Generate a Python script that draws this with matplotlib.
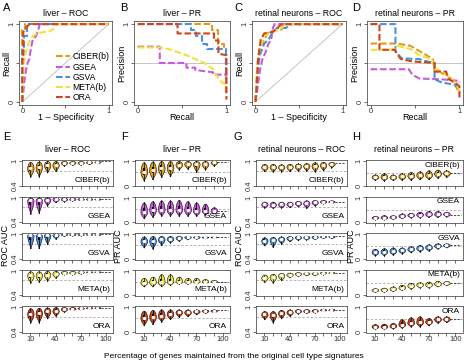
import numpy as np
import matplotlib
matplotlib.use('Agg')
import matplotlib.pyplot as plt

plt.rcParams['font.family'] = ['Liberation Sans', 'DejaVu Sans']

W, H = 468, 364

methods = ['CIBER(b)', 'GSEA', 'GSVA', 'META(b)', 'ORA']
colors = ['#E09B1B', '#C95BDB', '#4B91DF', '#EFE23A', '#D1451B']
pct = [10, 20, 30, 40, 50, 60, 70, 80, 90]

# top row curves: (x, y) vertices per method
liver_roc = [
    ([0, 0, 0.03, 0.03, 1], [0, 0.93, 0.93, 1, 1]),
    ([0, 0.02, 0.04, 0.06, 0.08, 0.10, 0.12, 0.16, 0.19, 0.2, 1],
     [0, 0.25, 0.4, 0.5, 0.55, 0.7, 0.8, 0.85, 0.95, 1, 1]),
    ([0, 0, 0.02, 0.02, 0.05, 0.05, 1], [0, 0.65, 0.65, 0.85, 0.85, 1, 1]),
    ([0, 0.01, 0.03, 0.06, 0.1, 0.15, 0.25, 0.3, 0.35, 0.4, 1],
     [0, 0.45, 0.6, 0.72, 0.82, 0.87, 0.9, 0.9, 0.93, 1, 1]),
    ([0, 0, 0.01, 0.01, 0.03, 0.04, 0.08, 1], [0, 0.55, 0.55, 0.9, 0.93, 0.95, 1, 1]),
]
liver_pr = [
    ([0, 0.84, 0.84, 0.9, 0.9, 0.97, 0.97, 1.0, 1.0], [1, 1, 0.93, 0.93, 0.75, 0.75, 0.68, 0.68, 0.12]),
    ([0, 0.25, 0.25, 0.55, 0.55, 0.65, 0.65, 0.85, 0.85, 1, 1],
     [0.71, 0.71, 0.5, 0.5, 0.44, 0.44, 0.41, 0.38, 0.35, 0.35, 0.33]),
    ([0, 0.6, 0.6, 0.66, 0.66, 0.72, 0.72, 0.78, 0.78, 1.0, 1.0],
     [1, 1, 0.93, 0.93, 0.85, 0.85, 0.75, 0.75, 0.68, 0.68, 0.3]),
    ([0, 0.25, 0.35, 0.45, 0.55, 0.65, 0.75, 0.85, 0.9, 0.95, 1],
     [0.7, 0.7, 0.68, 0.64, 0.6, 0.55, 0.5, 0.42, 0.32, 0.25, 0.22]),
    ([0, 0.45, 0.45, 0.86, 0.86, 0.91, 0.91, 1, 1], [1, 1, 0.88, 0.88, 0.79, 0.79, 0.62, 0.6, 0.03]),
]
retina_roc = [
    ([0, 0.02, 0.05, 0.1, 0.15, 0.3, 0.32, 1], [0, 0.45, 0.7, 0.8, 0.9, 0.93, 1, 1]),
    ([0, 0.02, 0.05, 0.08, 0.12, 0.15, 0.18, 0.2, 0.22, 1],
     [0, 0.15, 0.4, 0.55, 0.65, 0.75, 0.8, 0.95, 1, 1]),
    ([0, 0.02, 0.05, 0.1, 0.15, 0.2, 0.25, 0.35, 0.4, 1],
     [0, 0.35, 0.6, 0.75, 0.8, 0.9, 0.95, 0.95, 1, 1]),
    ([0, 0.02, 0.05, 0.1, 0.2, 0.3, 0.35, 1], [0, 0.5, 0.7, 0.85, 0.9, 0.95, 1, 1]),
    ([0, 0.01, 0.03, 0.06, 0.1, 0.2, 0.3, 1], [0, 0.15, 0.55, 0.8, 0.88, 0.9, 1, 1]),
]
retina_pr = [
    ([0, 0.3, 0.45, 0.6, 0.7, 0.72, 0.85, 0.9, 0.97, 1], [0.75, 0.75, 0.72, 0.62, 0.55, 0.4, 0.35, 0.3, 0.18, 0.1]),
    ([0, 0.43, 0.47, 0.55, 0.8, 0.9, 1, 1], [0.42, 0.42, 0.35, 0.3, 0.29, 0.28, 0.27, 0.25]),
    ([0, 0.28, 0.28, 0.35, 0.55, 0.6, 0.72, 0.72, 0.8, 0.95, 1],
     [1, 1, 0.65, 0.56, 0.55, 0.53, 0.5, 0.29, 0.25, 0.22, 0.15]),
    ([0, 0.25, 0.3, 0.45, 0.55, 0.68, 0.75, 0.85, 0.95, 1],
     [0.67, 0.67, 0.72, 0.68, 0.6, 0.55, 0.42, 0.35, 0.25, 0.15]),
    ([0, 0.1, 0.1, 0.27, 0.34, 0.47, 0.72, 0.72, 0.85, 0.88, 0.95, 1, 1],
     [1, 1, 0.67, 0.67, 0.55, 0.52, 0.5, 0.39, 0.39, 0.29, 0.25, 0.2, 0.05]),
]

# violin summaries (rows = methods, cols = 10..90 %), plus value at 100 %
e_med = [[0.82, 0.85, 0.9, 0.9, 0.96, 0.96, 0.96, 0.97, 0.98],
         [0.93, 0.93, 0.95, 0.96, 0.96, 0.96, 0.96, 0.96, 0.96],
         [0.97, 0.97, 0.98, 0.98, 0.99, 0.99, 0.99, 0.99, 0.99],
         [0.88, 0.88, 0.9, 0.92, 0.95, 0.95, 0.96, 0.97, 0.97],
         [0.83, 0.85, 0.9, 0.9, 0.95, 0.96, 0.97, 0.98, 0.98]]
e_lo = [[0.62, 0.62, 0.72, 0.75, 0.88, 0.9, 0.9, 0.92, 0.94],
        [0.6, 0.62, 0.8, 0.88, 0.9, 0.92, 0.93, 0.93, 0.94],
        [0.65, 0.65, 0.75, 0.88, 0.95, 0.96, 0.96, 0.97, 0.97],
        [0.7, 0.72, 0.75, 0.82, 0.9, 0.9, 0.92, 0.94, 0.95],
        [0.62, 0.62, 0.72, 0.78, 0.88, 0.92, 0.94, 0.95, 0.96]]
e_hi = [[0.98, 0.99, 1, 1, 1, 1, 1, 1, 1],
        [1, 1, 1, 1, 1, 1, 0.99, 0.99, 0.98],
        [1, 1, 1, 1, 1, 1, 1, 1, 1],
        [0.98, 0.98, 0.99, 0.99, 0.99, 0.99, 0.99, 0.98, 0.98],
        [0.97, 0.98, 0.99, 1, 1, 1, 1, 1, 1]]
e_full = [0.99, 0.96, 0.99, 0.97, 0.98]

f_med = [[0.55, 0.62, 0.7, 0.72, 0.85, 0.88, 0.88, 0.88, 0.95],
         [0.4, 0.48, 0.5, 0.5, 0.5, 0.48, 0.45, 0.45, 0.45],
         [0.7, 0.72, 0.78, 0.8, 0.85, 0.88, 0.88, 0.88, 0.88],
         [0.5, 0.52, 0.52, 0.55, 0.55, 0.55, 0.55, 0.55, 0.55],
         [0.55, 0.6, 0.65, 0.7, 0.78, 0.78, 0.82, 0.85, 0.85]]
f_lo = [[0.2, 0.25, 0.35, 0.38, 0.65, 0.68, 0.55, 0.65, 0.8],
        [0.15, 0.2, 0.25, 0.25, 0.25, 0.25, 0.25, 0.3, 0.35],
        [0.45, 0.4, 0.55, 0.65, 0.72, 0.78, 0.8, 0.82, 0.84],
        [0.35, 0.35, 0.35, 0.4, 0.45, 0.45, 0.47, 0.48, 0.5],
        [0.25, 0.3, 0.4, 0.5, 0.6, 0.62, 0.7, 0.75, 0.78]]
f_hi = [[0.95, 0.98, 1, 1, 1, 1, 1, 1, 1],
        [0.8, 0.85, 0.88, 0.88, 0.9, 0.85, 0.8, 0.75, 0.6],
        [0.9, 0.92, 0.92, 0.92, 0.92, 0.92, 0.92, 0.9, 0.9],
        [0.7, 0.75, 0.85, 0.85, 0.75, 0.7, 0.7, 0.65, 0.62],
        [0.85, 0.88, 0.9, 0.9, 0.9, 0.9, 0.9, 0.9, 0.9]]
f_full = [0.95, 0.45, 0.88, 0.55, 0.88]

g_med = [[0.85, 0.85, 0.85, 0.86, 0.87, 0.88, 0.88, 0.9, 0.93],
         [0.83, 0.82, 0.83, 0.84, 0.86, 0.86, 0.88, 0.9, 0.9],
         [0.83, 0.86, 0.88, 0.9, 0.92, 0.92, 0.93, 0.94, 0.94],
         [0.82, 0.84, 0.88, 0.9, 0.92, 0.93, 0.93, 0.95, 0.95],
         [0.82, 0.8, 0.85, 0.87, 0.9, 0.9, 0.91, 0.93, 0.93]]
g_lo = [[0.75, 0.74, 0.74, 0.75, 0.76, 0.76, 0.74, 0.77, 0.84],
        [0.75, 0.74, 0.75, 0.76, 0.78, 0.74, 0.8, 0.85, 0.86],
        [0.72, 0.68, 0.76, 0.82, 0.85, 0.86, 0.87, 0.9, 0.9],
        [0.72, 0.7, 0.76, 0.83, 0.86, 0.88, 0.88, 0.9, 0.92],
        [0.7, 0.62, 0.72, 0.78, 0.84, 0.85, 0.86, 0.9, 0.9]]
g_hi = [[0.93, 0.93, 0.92, 0.93, 0.94, 0.95, 0.97, 0.98, 0.98],
        [0.9, 0.9, 0.9, 0.9, 0.92, 0.93, 0.94, 0.94, 0.93],
        [0.92, 0.93, 0.94, 0.95, 0.96, 0.96, 0.96, 0.96, 0.96],
        [0.9, 0.92, 0.94, 0.95, 0.96, 0.96, 0.96, 0.97, 0.96],
        [0.9, 0.9, 0.93, 0.94, 0.95, 0.95, 0.95, 0.96, 0.96]]
g_full = [0.95, 0.9, 0.95, 0.95, 0.93]

h_med = [[0.35, 0.35, 0.33, 0.37, 0.4, 0.42, 0.42, 0.48, 0.5],
         [0.18, 0.18, 0.2, 0.25, 0.28, 0.3, 0.32, 0.32, 0.32],
         [0.25, 0.28, 0.3, 0.33, 0.38, 0.42, 0.45, 0.52, 0.55],
         [0.2, 0.22, 0.25, 0.3, 0.38, 0.42, 0.42, 0.45, 0.48],
         [0.2, 0.2, 0.22, 0.28, 0.35, 0.38, 0.4, 0.5, 0.5]]
h_lo = [[0.22, 0.2, 0.22, 0.22, 0.22, 0.25, 0.25, 0.3, 0.35],
        [0.1, 0.1, 0.12, 0.15, 0.18, 0.18, 0.2, 0.2, 0.22],
        [0.12, 0.12, 0.15, 0.2, 0.25, 0.28, 0.32, 0.4, 0.45],
        [0.12, 0.12, 0.15, 0.2, 0.25, 0.3, 0.3, 0.35, 0.4],
        [0.1, 0.1, 0.12, 0.15, 0.2, 0.2, 0.25, 0.35, 0.38]]
h_hi = [[0.45, 0.5, 0.45, 0.5, 0.55, 0.58, 0.62, 0.65, 0.62],
        [0.25, 0.28, 0.28, 0.35, 0.38, 0.42, 0.45, 0.45, 0.42],
        [0.4, 0.42, 0.45, 0.45, 0.5, 0.55, 0.58, 0.62, 0.62],
        [0.28, 0.3, 0.35, 0.42, 0.5, 0.52, 0.55, 0.58, 0.58],
        [0.3, 0.32, 0.35, 0.5, 0.58, 0.62, 0.55, 0.62, 0.62]]
h_full = [0.5, 0.3, 0.55, 0.5, 0.5]

ref_lines = {'E': 0.76, 'F': 0.55, 'G': 0.76, 'H': 0.5}

fig = plt.figure(figsize=(W / 100, H / 100), dpi=100)


def px_axes(l, t, r, b):
    return fig.add_axes([l / W, 1 - b / H, (r - l) / W, (b - t) / H])


def px_text(x, y, s, **kw):
    fig.text(x / W, 1 - y / H, s, **kw)


def style(ax):
    for sp in ax.spines.values():
        sp.set_linewidth(0.5)
        sp.set_color('#333333')
    ax.tick_params(direction='out', length=2, width=0.5, labelsize=5.5, pad=0.5, colors='#333333')


dash = (0, (3.2, 1.3))
top_x = [(19, 112), (134, 230), (252, 346), (367, 463)]
top_panels = [liver_roc, liver_pr, retina_roc, retina_pr]
top_titles = ['liver \u2013 ROC', 'liver \u2013 PR', 'retinal neurons \u2013 ROC', 'retinal neurons \u2013 PR']
letters_top = ['A', 'B', 'C', 'D']
letter_x = [7, 124, 238, 356]

for i, (curves, (l, r)) in enumerate(zip(top_panels, top_x)):
    ax = px_axes(l, 21, r, 105)
    style(ax)
    is_roc = i % 2 == 0
    if is_roc:
        ax.plot([0, 1], [0, 1], color='#BBBBBB', lw=0.6)
    else:
        ax.axhline(0.5, color='#BBBBBB', lw=0.6)
    for (xs, ys), m, c in zip(curves, methods, colors):
        ax.plot(xs, ys, color=c, lw=1.5, linestyle=dash, label=m)
    ax.set_xlim(-0.04, 1.04)
    ax.set_ylim(-0.04, 1.04)
    ax.set_xticks([0, 0.5, 1])
    ax.set_xticklabels(['0', '', '1'])
    ax.set_yticks([0, 0.5, 1])
    ax.set_yticklabels(['0', '', '1'], rotation=90, va='center')
    cx = (l + r) / 2
    px_text(cx, 14, top_titles[i], ha='center', va='center', fontsize=6.3)
    px_text(cx, 117, '1 \u2013 Specificity' if is_roc else 'Recall', ha='center', va='center', fontsize=6.5)
    px_text(l - 12, 63, 'Recall' if is_roc else 'Precision', ha='center', va='center',
            rotation=90, fontsize=6.5)
    px_text(letter_x[i], 8, letters_top[i], ha='center', va='center', fontsize=8)
    if i == 0:
        ax.legend(loc='lower right', frameon=False, fontsize=6.2, handlelength=1.6,
                  labelspacing=0.15, handletextpad=0.3, borderaxespad=0.1, borderpad=0.2)


def violin(ax, x, lo, med, hi, color, w=3.8):
    ys = np.linspace(lo, hi, 80)
    s1 = np.clip((ys - lo) / max(med - lo, 1e-6), 0, 1)
    s2 = np.clip((hi - ys) / max(hi - med, 1e-6), 0, 1)
    hw = np.where(ys <= med, w * np.sin(np.pi / 2 * s1) ** 1.3, w * np.sin(np.pi / 2 * s2) ** 0.5)
    hw = np.maximum(hw, 0.4)
    ax.fill_betweenx(ys, x - hw, x + hw, facecolor=color, edgecolor='black', lw=0.4, zorder=2)
    q1 = med - 0.35 * (med - lo)
    q3 = med + 0.4 * (hi - med)
    ax.plot([x, x], [lo, hi], color='black', lw=0.5, zorder=3)
    ax.plot([x, x], [q1, q3], color='black', lw=1.5, solid_capstyle='butt', zorder=3)
    ax.plot(x, med, 'o', ms=1.5, mfc='white', mec='white', zorder=4)


bottom_x = [(22, 113), (135, 230), (256, 347), (366, 463)]
ylabel_off = [16.5, 16.5, 16.5, 14]
row_tops = [160, 196.5, 233, 269.5, 306]
row_h = 26.5
bottom_sets = [(e_med, e_lo, e_hi, e_full), (f_med, f_lo, f_hi, f_full),
               (g_med, g_lo, g_hi, g_full), (h_med, h_lo, h_hi, h_full)]
bottom_titles = ['liver \u2013 ROC', 'liver \u2013 PR', 'retinal neurons \u2013 ROC', 'retinal neurons \u2013 PR']
letters_bot = ['E', 'F', 'G', 'H']

for j, ((l, r), (med, lo, hi, full)) in enumerate(zip(bottom_x, bottom_sets)):
    is_roc = j % 2 == 0
    for k in range(5):
        t = row_tops[k]
        ax = px_axes(l, t, r, t + row_h)
        style(ax)
        ax.axhline(ref_lines[letters_bot[j]], color='#AAAAAA', lw=0.6, linestyle=(0, (3, 2)), zorder=1)
        for p, mm, ll, hh in zip(pct, med[k], lo[k], hi[k]):
            violin(ax, p, ll, mm, hh, colors[k])
        ax.plot([94, 106], [full[k], full[k]], color='#444444', lw=0.7, linestyle=(0, (2.2, 1.4)), zorder=3)
        ax.set_xlim(0, 108.5)
        if is_roc:
            ax.set_ylim(0.376, 1.024)
            ax.set_yticks([0.4, 1])
            ax.set_yticklabels(['0.4', '1'], rotation=90, va='center')
        else:
            ax.set_ylim(-0.04, 1.04)
            ax.set_yticks([0, 1])
            ax.set_yticklabels(['0', '1'], rotation=90, va='center')
        ax.set_xticks(range(10, 101, 10))
        if k == 4:
            ax.set_xticklabels(['10', '', '', '40', '', '', '70', '', '', '100'])
        else:
            ax.set_xticklabels([])
        if j == 3:
            ax.text(0.97, 0.93, methods[k], transform=ax.transAxes, ha='right', va='top', fontsize=6)
        else:
            ax.text(0.97, 0.1, methods[k], transform=ax.transAxes, ha='right', va='bottom', fontsize=6)
    cx = (l + r) / 2
    px_text(cx, 150, bottom_titles[j], ha='center', va='center', fontsize=6.3)
    px_text(l - ylabel_off[j], 246, 'ROC AUC' if is_roc else 'PR AUC', ha='center', va='center',
            rotation=90, fontsize=6.5)
    px_text(letter_x[j], 137, letters_bot[j], ha='center', va='center', fontsize=8)

px_text(234, 356, 'Percentage of genes maintained from the original cell type signatures',
        ha='center', va='center', fontsize=6)

fig.savefig('out.png', dpi=100)
